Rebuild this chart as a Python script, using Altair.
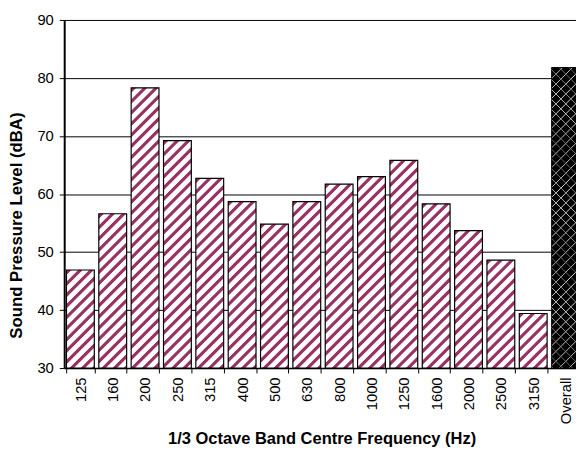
import math
import altair as alt
import pandas as pd

# ---- data ----
bands = ["125", "160", "200", "250", "315", "400", "500", "630",
         "800", "1000", "1250", "1600", "2000", "2500", "3150"]
levels = [46.9, 56.6, 78.3, 69.2, 62.7, 58.7, 54.8, 58.7,
          61.7, 63.0, 65.8, 58.3, 53.7, 48.6, 39.4]
overall_label = "Overall"
overall_level = 81.8
y_ticks = [30, 40, 50, 60, 70, 80, 90]

# ---- layout ----
W, H = 519, 353
n_cat = len(bands) + 1
step = 32.8
x_range = step * n_cat
pad_in = 0.14
bar_w = step * (1 - pad_in)
ymin, ymax = 30, 90
FONT = "Liberation Sans"

def px_h(v):
    return (v - ymin) / (ymax - ymin) * H

def stripes(w, h, period, line_c, bg_c, frac, direction):
    k = (w + h) / (w * w + h * h)
    A, B = w * k, h * k
    if direction == "up":
        x1, y1, x2, y2 = 0, 0, A, B
    else:
        x1, y1, x2, y2 = 0, 1, A, 1 - B
    n = (w + h) / (period * math.sqrt(2))
    dt = 1.0 / n
    soft = 0.8 * math.sqrt(2) / (w + h)
    stops = []
    t = 0.0
    def add(o, c):
        o = max(0.0, min(1.0, o))
        stops.append({"offset": round(o, 5), "color": c})
    add(0.0, bg_c)
    while t < 1.0:
        add(t, bg_c)
        add(t + soft, line_c)
        add(t + frac * dt - soft, line_c)
        add(t + frac * dt, bg_c)
        t += dt
    add(1.0, bg_c)
    return {"gradient": "linear", "x1": x1, "y1": y1, "x2": x2, "y2": y2,
            "stops": stops}

PURPLE = "#993366"
conds = []
for b, v in zip(bands, levels):
    g = stripes(bar_w, px_h(v), 8.0, PURPLE, "#ffffff", 0.5, "up")
    conds.append({"test": f"datum.band === '{b}'", "value": g})

df = pd.DataFrame({"band": bands, "level": levels})
df_over = pd.DataFrame({"band": [overall_label], "level": [overall_level]})

domain = bands + [overall_label]

x_enc = alt.X(
    "band:N",
    sort=domain,
    scale=alt.Scale(domain=domain, range=[0, x_range],
                    paddingInner=pad_in, paddingOuter=pad_in / 2),
    axis=alt.Axis(
        title="1/3 Octave Band Centre Frequency (Hz)",
        titleFont=FONT, titleFontSize=16.7, titleFontWeight="bold",
        titleColor="black", titleX=261, titleY=72, titleBaseline="middle",
        titleAlign="center",
        labelFont=FONT, labelFontSize=15, labelColor="black",
        labelAngle=270, labelAlign="right", labelBaseline="middle",
        labelPadding=4,
        tickBand="extent", tickColor="black", tickSize=5, tickWidth=1,
        domainColor="black", domainWidth=1.5, grid=False,
    ),
)
y_enc = alt.Y(
    "level:Q",
    scale=alt.Scale(domain=[ymin, ymax], zero=False, nice=False),
    axis=alt.Axis(
        title="Sound Pressure Level (dBA)",
        titleFont=FONT, titleFontSize=17, titleFontWeight="bold",
        titleColor="black", titleAngle=270, titleX=-48, titleY=208,
        titleBaseline="middle", titleAlign="center",
        values=y_ticks, labelFont=FONT, labelFontSize=15,
        labelColor="black", labelPadding=6,
        tickColor="black", tickSize=5, tickWidth=1,
        domainColor="black", domainWidth=2,
        grid=True, gridColor="black", gridWidth=1,
    ),
)

bars = alt.Chart(df).mark_bar(
    stroke="black", strokeWidth=1.2, clip=True
).encode(
    x=x_enc, y=y_enc, y2=alt.datum(ymin),
    fill={"condition": conds, "value": "white"},
)

oh = px_h(overall_level)
g1 = stripes(bar_w, oh, 7.1, "#c8c8c8", "#000000", 0.2, "up")
g2 = stripes(bar_w, oh, 7.1, "#c8c8c8", "rgba(0,0,0,0)", 0.2, "down")

over1 = alt.Chart(df_over).mark_bar(
    stroke="black", strokeWidth=1, clip=True, fill=g1
).encode(x=x_enc, y=y_enc, y2=alt.datum(ymin))
over2 = alt.Chart(df_over).mark_bar(
    strokeWidth=0, clip=True, fill=g2
).encode(x=x_enc, y=y_enc, y2=alt.datum(ymin))

chart = alt.layer(bars, over1, over2).properties(
    width=W, height=H,
    autosize=alt.AutoSizeParams(type="none"),
    padding={"left": 57, "top": 9, "right": 0, "bottom": 82},
    background="white",
).configure_view(stroke=None)

chart.save("out.html", embed_options={"renderer": "svg", "actions": False})
